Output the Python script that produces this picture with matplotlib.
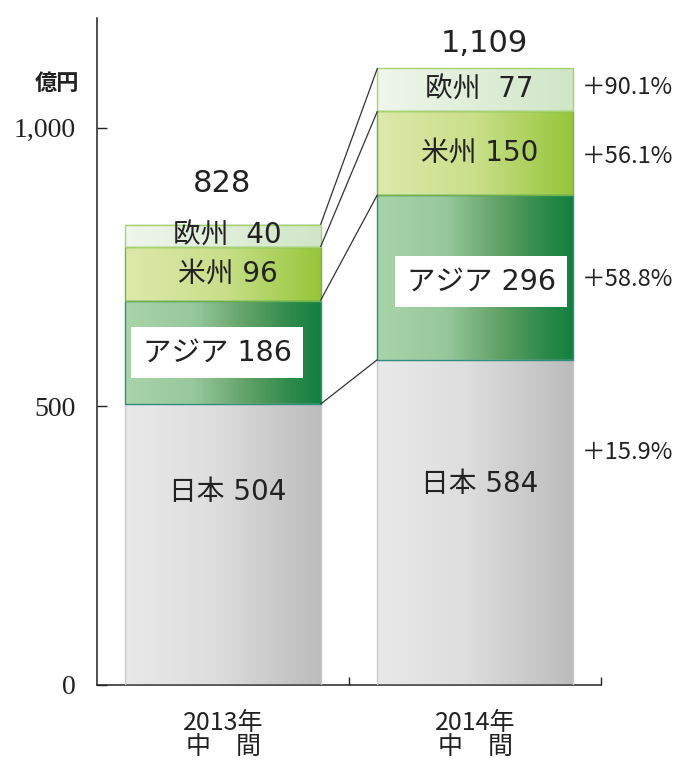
import matplotlib
matplotlib.use('Agg')
import matplotlib.pyplot as plt
import numpy as np
from matplotlib.colors import LinearSegmentedColormap
from matplotlib.patches import Rectangle

# ---- data ----
categories = ['2013年\n中　間', '2014年\n中　間']
regions = ['日本', 'アジア', '米州', '欧州']
japan = [504, 584]
asia = [186, 296]
americas = [96, 150]
europe = [40, 77]
totals = ['828', '1,109']
growth = ['＋15.9%', '＋58.8%', '＋56.1%', '＋90.1%']
yticks = [0, 500, 1000]
yticklabels = ['0', '500', '1,000']
unit = '億円'

series = [japan, asia, americas, europe]

# ---- styles ----
grad_stops = {
    '日本': [(0, '#e9e9e9'), (0.45, '#dedede'), (1, '#bcbcbc')],
    'アジア': [(0, '#a9d4a9'), (0.35, '#97c89c'), (0.62, '#62a266'), (0.85, '#2e8a4a'), (1, '#128040')],
    '米州': [(0, '#dee9aa'), (0.5, '#c9df8a'), (1, '#96c63a')],
    '欧州': [(0, '#eff6ec'), (1, '#d0e6c6')],
}
edge = {'日本': '#c8c8c8', 'アジア': '#2f8e80', '米州': '#6fb24a', '欧州': '#a8d26e'}
txt = '#222222'
fam = ['DejaVu Sans', 'Noto Sans CJK JP']

fig = plt.figure(figsize=(6.77, 7.60), dpi=100)
ax = fig.add_axes([97/677, 75/760, 504/677, 667/760])

x = np.arange(len(categories))
width = 0.774
bottom = np.zeros(len(categories))
grad = np.linspace(0, 1, 256).reshape(1, -1)
tops = []
mids = []
for name, vals in zip(regions, series):
    vals = np.array(vals, dtype=float)
    cmap = LinearSegmentedColormap.from_list(name, grad_stops[name])
    bars = ax.bar(x, vals, width, bottom=bottom, facecolor='none',
                  edgecolor=edge[name], linewidth=1.0, zorder=3)
    for b in bars:
        x0, y0, w, h = b.get_x(), b.get_y(), b.get_width(), b.get_height()
        ax.imshow(grad, extent=(x0, x0 + w, y0, y0 + h), aspect='auto',
                  cmap=cmap, zorder=2, interpolation='bicubic')
    mids.append(bottom + vals / 2)
    bottom = bottom + vals
    tops.append(bottom.copy())

# connector lines between bars
for t in tops:
    ax.plot([x[0] + width / 2, x[1] - width / 2], [t[0], t[1]],
            color='#333333', lw=0.9, zorder=4, solid_capstyle='butt')

# segment labels
label_y = {
    '日本': [346, 361],
    'アジア': list(mids[1]),
    '米州': list(mids[2]),
    '欧州': list(mids[3]),
}
label_y['アジア'][1] -= 8
label_dx = {'日本': 0.018, 'アジア': 0.0, '米州': 0.018, '欧州': 0.018}
asia_dx = [-0.024, 0.024]
for ri, (name, vals) in enumerate(zip(regions, series)):
    for i in range(len(categories)):
        sep = '  ' if name == '欧州' else ' '
        s = f'{name}{sep}{vals[i]}'
        dx = asia_dx[i] if name == 'アジア' else label_dx[name]
        xx = x[i] + dx
        yy = label_y[name][i]
        if name == 'アジア':
            bw, bh = 0.683, 91.6
            ax.add_patch(Rectangle((xx - bw / 2, yy - bh / 2), bw, bh,
                                   facecolor='white', edgecolor='none', zorder=5))
            ax.text(xx, yy, s, ha='center', va='center', fontsize=20.5,
                    family=fam, color=txt, zorder=6)
        else:
            ax.text(xx, yy, s, ha='center', va='center', fontsize=20,
                    family=fam, color=txt, zorder=6)

# totals
total_y = [900, 1152]
total_dx = [-0.005, 0.035]
for i, t in enumerate(totals):
    ax.text(x[i] + total_dx[i], total_y[i], t, ha='center', va='center',
            fontsize=22, family=fam, color=txt)

# growth rates
growth_y = [418, mids[1][1] - 5, mids[2][1] - 7, mids[3][1] + 4]
for g, yy in zip(growth, growth_y):
    ax.text(1.4246, yy, g, ha='left', va='center', fontsize=17,
            family=['Noto Sans CJK JP', 'DejaVu Sans'], color=txt)

# axes
ax.set_xlim(-0.5, 1.5)
ax.set_ylim(0, 1197)
for s in ['top', 'right']:
    ax.spines[s].set_visible(False)
for s in ['left', 'bottom']:
    ax.spines[s].set_color('#222222')
    ax.spines[s].set_linewidth(1.1)

ax.set_yticks(yticks)
ax.set_yticklabels(yticklabels, family='Liberation Serif', fontsize=20, color=txt)
ax.tick_params(axis='y', direction='in', length=7, width=1, pad=15, colors='#222222')

ax.set_xticks(x)
ax.set_xticklabels(categories, family='Noto Sans CJK JP', fontsize=18,
                   color=txt, linespacing=0.95)
ax.tick_params(axis='x', which='major', length=0, pad=18)
ax.set_xticks([0.5, 1.5], minor=True)
ax.tick_params(axis='x', which='minor', direction='in', length=6, width=1, colors='#222222')

fig.text(57/677, 1 - 83/760, unit, ha='center', va='center', fontsize=16,
         family='Noto Sans CJK JP', weight='bold', color=txt)

fig.savefig('out.png', dpi=100)
